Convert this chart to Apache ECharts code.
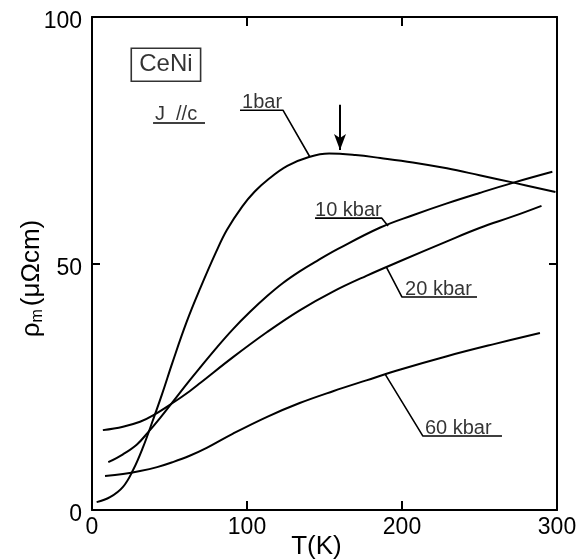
<!DOCTYPE html>
<html>
<head>
<meta charset="utf-8">
<title>CeNi</title>
<script src="https://cdn.jsdelivr.net/npm/echarts/dist/echarts.min.js"></script>
<style>
html, body { margin: 0; height: 100%; overflow: hidden; background: #fff; }
#main { width: 579px; height: 559px; }
</style>
</head>
<body>
<div id="main"></div>
<script>
// [T (K), rho_m (μΩcm)]
var curve1bar = [[3,1.6],[11.6,2.6],[20,4.7],[26.5,8.1],[33,12.8],[39.4,18.3],[45.2,23.5],[52,30],[61,38.1],
  [70,45.1],[80,52.3],[87,56.8],[97,61.6],[105,64.6],[113,66.9],[126,69.8],[140,71.6],[153,72.3],[170,72],
  [186,71.4],[207,70.5],[229,69.3],[250,67.9],[272,66.4],[299,64.5]];
var curve10kbar = [[10.5,9.7],[20,11.3],[29,13.3],[36,15.7],[44,18.7],[52,21.9],[63,26.3],[70,29],
  [80.6,33],[91,36.7],[102,40.2],[113,43.4],[123,46],[134,48.4],[145,50.5],[159,53],[186,57.3],
  [207,59.8],[229,62.2],[250,64.3],[272,66.4],[297,68.6]];
var curve20kbar = [[7,16.2],[20,16.9],[31,17.9],[39.4,19.2],[52,21.7],[63,24.1],[70,25.8],[91,31],
  [113,36.1],[134,40.5],[155.5,44.3],[177,47.5],[199,50.5],[229,54.5],[250,57.2],[272,59.6],[290,61.7]];
var curve60kbar = [[8.4,6.9],[20,7.3],[31,7.9],[42,8.7],[52,9.7],[63,11],[74,12.6],[91,15.5],
  [113,18.9],[134,21.7],[155.5,24.1],[177,26.3],[199,28.5],[229,31.2],[260,33.7],[289,35.9]];

// annotation leaders (data coordinates)
var lead1bar = [[95.5,81.1],[123.2,81.1],[140.6,71.6]];
var lead10kbar = [[143.9,59.2],[187,59.2],[191,57.6]];
var lead20kbar = [[190,49.2],[200,43.2],[248.4,43.2]];
var lead60kbar = [[189,27.6],[213.5,15],[264.5,15]];
var underlineJ = [[39.4,78.5],[72.9,78.5]];
var arrowPeak = [[160,82.2],[160,73]];

var labelTexts = ['1bar', '10 kbar', '20 kbar', '60 kbar', 'J  //c'];
var labelAnchors = [[96.8,80.7],[143.9,58.8],[202,42.8],[214.8,14.6],[40.6,78.1]];
var boxText = 'CeNi';
var boxAnchor = [47.7,90.3];

var font = "'Liberation Sans', Arial, sans-serif";
var myChart = echarts.init(document.getElementById('main'));

function xAxisOf(pos, show) {
  return {
    type: 'value', position: pos, min: 0, max: 300, interval: 100,
    axisLine: { show: true, onZero: false, lineStyle: { color: '#000', width: 2 } },
    axisTick: { show: true, inside: true, length: 9, lineStyle: { color: '#000', width: 2 } },
    axisLabel: { show: show, color: '#000', fontSize: 23, fontFamily: font, margin: 6 },
    splitLine: { show: false }
  };
}
function yAxisOf(pos, show) {
  return {
    type: 'value', position: pos, min: 0, max: 100, interval: 50,
    axisLine: { show: true, onZero: false, lineStyle: { color: '#000', width: 2 } },
    axisTick: { show: true, inside: true, length: 8, lineStyle: { color: '#000', width: 2 } },
    axisLabel: {
      show: show, margin: 10, formatter: '{v|{value}}',
      rich: { v: { color: '#000', fontSize: 23, fontFamily: font, padding: [10, 0, 0, 0] } }
    },
    splitLine: { show: false }
  };
}

function curve(d) {
  return {
    type: 'line', data: d, smooth: 0.4, showSymbol: false, silent: true,
    lineStyle: { color: '#000', width: 2 }
  };
}
function leader(d) {
  return {
    type: 'line', data: d, smooth: false, showSymbol: false, silent: true,
    lineStyle: { color: '#000', width: 1.6 }
  };
}

var xa = xAxisOf('bottom', true);
xa.name = 'T(K)';
xa.nameLocation = 'middle';
xa.nameGap = 24;
xa.nameMoveOverlap = false;
xa.nameTextStyle = { color: '#000', fontSize: 26, fontFamily: font, padding: [0, 16, 0, 0] };

var ya = yAxisOf('left', true);
ya.name = '{a|ρ}{s|m}{a|(μΩcm)}';
ya.nameLocation = 'middle';
ya.nameGap = 46;
ya.nameMoveOverlap = false;
ya.nameTextStyle = {
  padding: [0, 30, 0, 0],
  rich: {
    a: { color: '#000', fontSize: 26, fontFamily: font },
    s: { color: '#000', fontSize: 16, fontFamily: font, padding: [12, 3, 0, 0] }
  }
};

var labelData = labelTexts.map(function (t, i) {
  return { name: t, value: labelAnchors[i] };
});

var option = {
  animation: false,
  grid: { left: 92, right: 22, top: 17, bottom: 49, outerBoundsMode: 'none' },
  xAxis: [xa, xAxisOf('top', false)],
  yAxis: [ya, yAxisOf('right', false)],
  series: [
    curve(curve1bar), curve(curve10kbar), curve(curve20kbar), curve(curve60kbar),
    leader(lead1bar), leader(lead10kbar), leader(lead20kbar), leader(lead60kbar), leader(underlineJ),
    {
      type: 'line', data: [], silent: true,
      markLine: {
        silent: true, symbol: ['none', 'arrow'], symbolSize: [9, 16],
        label: { show: false },
        lineStyle: { color: '#000', width: 2, type: 'solid' },
        data: [[{ coord: arrowPeak[0] }, { coord: arrowPeak[1] }]]
      }
    },
    {
      type: 'scatter', data: labelData, symbolSize: 0, silent: true,
      label: {
        show: true, formatter: '{b}', position: [0, 0], align: 'left', verticalAlign: 'bottom',
        color: '#000', fontSize: 20, fontFamily: font
      }
    },
    {
      type: 'scatter', data: [{ name: boxText, value: boxAnchor }], symbolSize: 0, silent: true,
      label: {
        show: true, formatter: '{b}', position: [0, 0], align: 'center', verticalAlign: 'middle',
        color: '#000', fontSize: 24, fontFamily: font,
        borderColor: '#000', borderWidth: 1.6, padding: [6, 8, 3, 8]
      }
    }
  ]
};
myChart.setOption(option);
</script>
</body>
</html>
